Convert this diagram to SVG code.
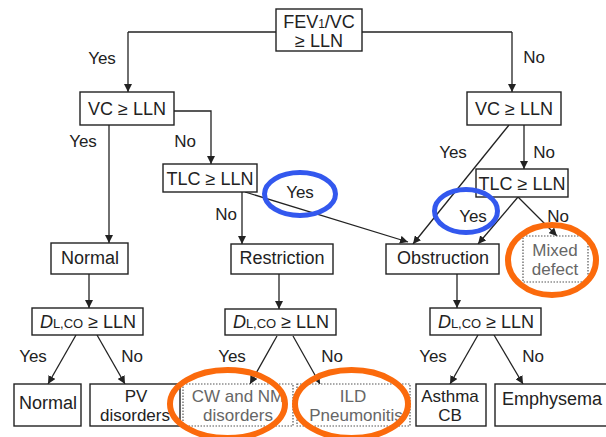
<svg xmlns="http://www.w3.org/2000/svg" width="606" height="437" viewBox="0 0 606 437">
<defs>
<marker id="ah" viewBox="0 0 10 10" refX="10" refY="5" markerWidth="8" markerHeight="8" markerUnits="userSpaceOnUse" orient="auto">
<path d="M0,0 L10,5 L0,10 z" fill="#222"/>
</marker>
<style>
.box{fill:#fff;stroke:#222;stroke-width:1.4}
.dbox{fill:#fff;stroke:#555;stroke-width:1.2;stroke-dasharray:1.5 1.5}
.t{font-family:"Liberation Sans",Arial,sans-serif;font-size:18px;fill:#222;text-anchor:middle}
.s{font-size:17px}
.g{fill:#666}
.lbl{font-family:"Liberation Sans",Arial,sans-serif;font-size:17px;fill:#222;text-anchor:middle}
.ln{fill:none;stroke:#222;stroke-width:1.3}
.arr{fill:none;stroke:#222;stroke-width:1.3;marker-end:url(#ah)}
.blue{fill:none;stroke:#3358ee;stroke-width:5}
.orange{fill:none;stroke:#fb6a0c;stroke-width:6}
</style>
</defs>
<rect width="606" height="437" fill="#fff"/>
<g id="connectors">
<path class="ln" d="M276,32 H128"/>
<path class="arr" d="M128,32 V92"/>
<path class="ln" d="M362,32 H512"/>
<path class="arr" d="M512,32 V92"/>
<path class="arr" d="M174,111 H211 V164"/>
<path class="arr" d="M109,125 V243"/>
<path class="arr" d="M242,192 V244"/>
<path class="arr" d="M245,192 L408,242" stroke="#444"/>
<path class="arr" d="M524,125 V169"/>
<path class="arr" d="M509,125 L413,244"/>
<path class="arr" d="M518,197 L478,244"/>
<path class="arr" d="M518,197 L557,236"/>
<path class="arr" d="M89,274 V308"/>
<path class="arr" d="M279,274 V309"/>
<path class="arr" d="M457,274 V308"/>
<path class="arr" d="M76,335 L48,384"/>
<path class="arr" d="M97,335 L125,384"/>
<path class="arr" d="M277,336 L250,384"/>
<path class="arr" d="M293,336 L320,384"/>
<path class="arr" d="M478,335 L450,384"/>
<path class="arr" d="M494,335 L523,384"/>
</g>
<g id="labels">
<text class="lbl" x="102" y="64">Yes</text>
<text class="lbl" x="534" y="63">No</text>
<text class="lbl" x="83" y="147">Yes</text>
<text class="lbl" x="185" y="147">No</text>
<text class="lbl" x="453" y="158">Yes</text>
<text class="lbl" x="544" y="158">No</text>
<text class="lbl" x="226" y="220">No</text>
<text class="lbl g" x="300" y="198">Yes</text>
<text class="lbl g" x="473" y="222">Yes</text>
<text class="lbl" x="558" y="222">No</text>
<text class="lbl" x="33" y="362">Yes</text>
<text class="lbl" x="132" y="362">No</text>
<text class="lbl" x="232" y="362">Yes</text>
<text class="lbl" x="332" y="362">No</text>
<text class="lbl" x="433" y="362">Yes</text>
<text class="lbl" x="533" y="362">No</text>
</g>
<g id="n-fev">
<rect class="box" x="276" y="9" width="86" height="42"/>
<text class="t" x="319" y="28">FEV<tspan font-size="12">1</tspan>/VC</text>
<text class="t" x="319" y="47">≥ LLN</text>
</g>
<g id="n-vc-left">
<rect class="box" x="80" y="92" width="94" height="33"/>
<text class="t" x="127" y="115">VC ≥ LLN</text>
</g>
<g id="n-vc-right">
<rect class="box" x="467" y="92" width="94" height="33"/>
<text class="t" x="514" y="115">VC ≥ LLN</text>
</g>
<g id="n-tlc-left">
<rect class="box" x="163" y="164" width="94" height="28"/>
<text class="t" x="210" y="185">TLC ≥ LLN</text>
</g>
<g id="n-tlc-right">
<rect class="box" x="476" y="169" width="92" height="28"/>
<text class="t" x="522" y="190">TLC ≥ LLN</text>
</g>
<g id="n-normal-top">
<rect class="box" x="51" y="243" width="77" height="31"/>
<text class="t" x="90" y="264">Normal</text>
</g>
<g id="n-restriction">
<rect class="box" x="231" y="244" width="102" height="30"/>
<text class="t" x="282" y="264">Restriction</text>
</g>
<g id="n-obstruction">
<rect class="box" x="386" y="244" width="113" height="30"/>
<text class="t" x="443" y="264">Obstruction</text>
</g>
<g id="n-mixed">
<rect class="dbox" x="523" y="236" width="65" height="46"/>
<text class="t s g" x="555" y="256">Mixed</text>
<text class="t s g" x="555" y="275">defect</text>
</g>
<g id="n-dl-left">
<rect class="box" x="32" y="308" width="111" height="27"/>
<text class="t" x="88" y="328"><tspan font-style="italic">D</tspan><tspan font-size="13">L,CO</tspan> ≥ LLN</text>
</g>
<g id="n-dl-mid">
<rect class="box" x="225" y="309" width="111" height="26"/>
<text class="t" x="281" y="328"><tspan font-style="italic">D</tspan><tspan font-size="13">L,CO</tspan> ≥ LLN</text>
</g>
<g id="n-dl-right">
<rect class="box" x="430" y="308" width="111" height="27"/>
<text class="t" x="486" y="328"><tspan font-style="italic">D</tspan><tspan font-size="13">L,CO</tspan> ≥ LLN</text>
</g>
<g id="n-normal-bottom">
<rect class="box" x="14" y="384" width="67" height="42"/>
<text class="t" x="48" y="409">Normal</text>
</g>
<g id="n-pv">
<rect class="box" x="90" y="384" width="90" height="42"/>
<text class="t s" x="136" y="402">PV</text>
<text class="t s" x="135" y="421">disorders</text>
</g>
<g id="n-cw">
<rect class="dbox" x="183" y="384" width="110" height="42"/>
<text class="t s g" x="238" y="402">CW and NM</text>
<text class="t s g" x="238" y="421">disorders</text>
</g>
<g id="n-ild">
<rect class="dbox" x="297" y="384" width="113" height="42"/>
<text class="t s g" x="353" y="402">ILD</text>
<text class="t s g" x="356" y="421">Pneumonitis</text>
</g>
<g id="n-asthma">
<rect class="box" x="416" y="384" width="70" height="42"/>
<text class="t s" x="450" y="402">Asthma</text>
<text class="t s" x="450" y="421">CB</text>
</g>
<g id="n-emphysema">
<rect class="box" x="495" y="384" width="115" height="42"/>
<text class="t" x="502" y="405" style="text-anchor:start">Emphysema</text>
</g>
<g id="annotations">
<ellipse class="blue" cx="300" cy="194" rx="35.5" ry="21.5"/>
<ellipse class="blue" cx="466" cy="211" rx="31.5" ry="21.5"/>
<ellipse class="orange" cx="552" cy="260" rx="44" ry="35"/>
<ellipse class="orange" cx="227.5" cy="404" rx="57.5" ry="34"/>
<ellipse class="orange" cx="351.5" cy="404" rx="56.5" ry="34"/>
</g>
</svg>
